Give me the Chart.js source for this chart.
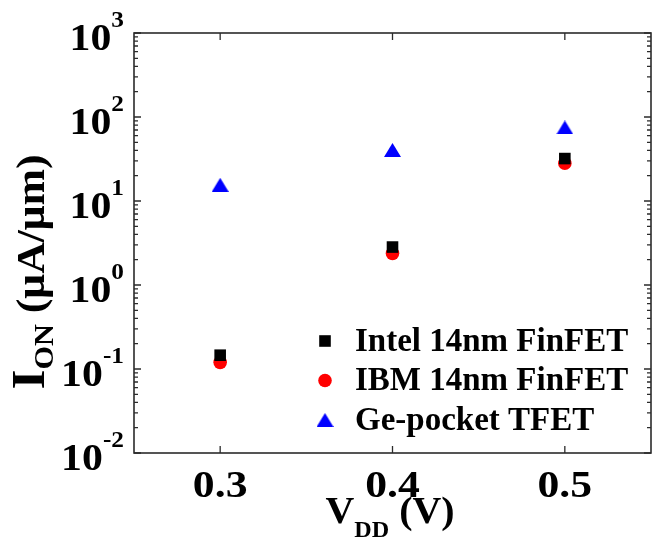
<!DOCTYPE html>
<html>
<head>
<meta charset="utf-8">
<script src="https://cdn.jsdelivr.net/npm/chart.js@4/dist/chart.umd.min.js"></script>
<style>
  html, body { margin: 0; padding: 0; background: #ffffff; }
  canvas { display: block; }
</style>
</head>
<body>
<canvas id="chart" width="660" height="548"></canvas>
<script>
// Supply voltage (V) and on-current (µA/µm) for each device
const vdd = [0.3, 0.4, 0.5];
const intelFinfet = [0.146, 2.83, 32];
const ibmFinfet = [0.12, 2.38, 28.1];
const gePocketTfet = [15.6, 40.5, 75];
const seriesNames = ['Intel 14nm FinFET', 'IBM 14nm FinFET', 'Ge-pocket TFET'];
const xTickValues = [0.3, 0.4, 0.5];
const xTickLabels = ['0.3', '0.4', '0.5'];
const yDecadeExponents = [-2, -1, 0, 1, 2, 3];

const SERIF = '"Liberation Serif", "Times New Roman", serif';
const AXIS_COLOR = '#2b2b2b';

// Upright triangle marker whose bounding box is centred on the data point
function makeTriangle(w, h, color) {
  const c = document.createElement('canvas');
  c.width = w; c.height = h;
  const g = c.getContext('2d');
  g.fillStyle = color;
  g.beginPath();
  g.moveTo(w / 2, 0);
  g.lineTo(w, h);
  g.lineTo(0, h);
  g.closePath();
  g.fill();
  return c;
}
const triMarker = makeTriangle(17, 14, '#0000ff');

// Draws a run of text pieces (for sub/superscripts); sx stretches horizontally
function richText(ctx, parts, x, y, align, sx) {
  sx = sx || 1;
  let total = 0;
  parts.forEach(p => {
    ctx.font = 'bold ' + p.px + 'px ' + SERIF;
    p.w = ctx.measureText(p.t).width * sx;
    total += p.w;
  });
  let cx = align === 'center' ? x - total / 2 : (align === 'right' ? x - total : x);
  parts.forEach(p => {
    ctx.save();
    ctx.font = 'bold ' + p.px + 'px ' + SERIF;
    ctx.fillStyle = '#000';
    ctx.textAlign = 'left';
    ctx.textBaseline = 'alphabetic';
    ctx.translate(cx, y + (p.dy || 0));
    ctx.scale(sx, 1);
    ctx.fillText(p.t, 0, 0);
    ctx.restore();
    cx += p.w;
  });
}

// Box, inward ticks, tick labels and axis titles
const axesPlugin = {
  id: 'boxAxes',
  beforeDatasetsDraw(chart) {
    const { ctx, chartArea: a, scales } = chart;
    const xs = scales.x, ys = scales.y;
    ctx.save();
    ctx.strokeStyle = AXIS_COLOR;
    ctx.lineWidth = 1.6;
    ctx.strokeRect(a.left, a.top, a.right - a.left, a.bottom - a.top);

    ctx.lineWidth = 1.3;
    ctx.beginPath();
    // y ticks: decades long, 2..9 short, on both sides
    for (let d = -2; d <= 3; d++) {
      for (let k = 1; k <= 9; k++) {
        const v = k * Math.pow(10, d);
        if (v > ys.max * 1.0001) break;
        const py = ys.getPixelForValue(v);
        const len = k === 1 ? 7 : 4;
        ctx.moveTo(a.left, py); ctx.lineTo(a.left + len, py);
        ctx.moveTo(a.right, py); ctx.lineTo(a.right - len, py);
      }
    }
    // x ticks at bottom and top
    xTickValues.forEach(v => {
      const px = xs.getPixelForValue(v);
      ctx.moveTo(px, a.bottom); ctx.lineTo(px, a.bottom - 7);
      ctx.moveTo(px, a.top); ctx.lineTo(px, a.top + 7);
    });
    ctx.stroke();

    // y tick labels 10^n
    yDecadeExponents.forEach(e => {
      const py = ys.getPixelForValue(Math.pow(10, e));
      richText(ctx, [
        { t: '10', px: 38 },
        { t: String(e), px: 23, dy: -23 }
      ], 124, py + 17, 'right', 1.1);
    });

    // x tick labels
    xTickValues.forEach((v, i) => {
      const px = xs.getPixelForValue(v);
      richText(ctx, [{ t: xTickLabels[i], px: 38 }], px, 497, 'center', 1.15);
    });

    // x title: V_DD (V)
    richText(ctx, [
      { t: 'V', px: 38 },
      { t: 'DD', px: 23, dy: 14 },
      { t: ' (V)', px: 38 }
    ], 390, 523, 'center', 1.05);

    // y title: I_ON (µA/µm), rotated
    ctx.save();
    ctx.translate(44, 272);
    ctx.rotate(-Math.PI / 2);
    richText(ctx, [
      { t: 'I', px: 46 },
      { t: 'ON', px: 27, dy: 9 },
      { t: ' (μA/μm)', px: 39 }
    ], 0, 0, 'center', 1.12);
    ctx.restore();
    ctx.restore();
  },
  afterDatasetsDraw(chart) {
    // Legend in the lower right of the plot area
    const { ctx } = chart;
    const mx = 325, tx = 355, y0 = 341, step = 39.5;
    chart.data.datasets.forEach((ds, i) => {
      const y = y0 + i * step;
      ctx.save();
      if (ds.pointStyle === triMarker) {
        ctx.drawImage(triMarker, mx - triMarker.width / 2, y - triMarker.height / 2);
      } else {
        ctx.fillStyle = ds.backgroundColor;
        ctx.beginPath();
        if (ds.pointStyle === 'rect') {
          const s = ds.pointRadius * Math.SQRT1_2;
          ctx.rect(mx - s, y - s, 2 * s, 2 * s);
        } else {
          ctx.arc(mx, y, ds.pointRadius, 0, Math.PI * 2);
        }
        ctx.fill();
      }
      ctx.font = 'bold 33px ' + SERIF;
      ctx.fillStyle = '#000';
      ctx.textAlign = 'left';
      ctx.textBaseline = 'middle';
      ctx.fillText(ds.label, tx, y + 1);
      ctx.restore();
    });
  }
};

const toPoints = ys => vdd.map((x, i) => ({ x, y: ys[i] }));

new Chart(document.getElementById('chart'), {
  type: 'scatter',
  data: {
    datasets: [
      {
        label: seriesNames[0], data: toPoints(intelFinfet),
        pointStyle: 'rect', pointRadius: 8.2,
        backgroundColor: '#000000', borderColor: '#000000', borderWidth: 0
      },
      {
        label: seriesNames[1], data: toPoints(ibmFinfet),
        pointStyle: 'circle', pointRadius: 6.8,
        backgroundColor: '#ff0000', borderColor: '#ff0000', borderWidth: 0
      },
      {
        label: seriesNames[2], data: toPoints(gePocketTfet),
        pointStyle: triMarker, pointRadius: 9,
        backgroundColor: '#0000ff', borderColor: '#0000ff', borderWidth: 0
      }
    ]
  },
  options: {
    responsive: false,
    animation: false,
    layout: { padding: { left: 134, top: 33, right: 2, bottom: 95 } },
    plugins: { legend: { display: false }, tooltip: { enabled: false } },
    scales: {
      x: { type: 'linear', min: 0.25, max: 0.55, display: false },
      y: { type: 'logarithmic', min: 0.01, max: 1000, display: false }
    }
  },
  plugins: [axesPlugin]
});
</script>
</body>
</html>
